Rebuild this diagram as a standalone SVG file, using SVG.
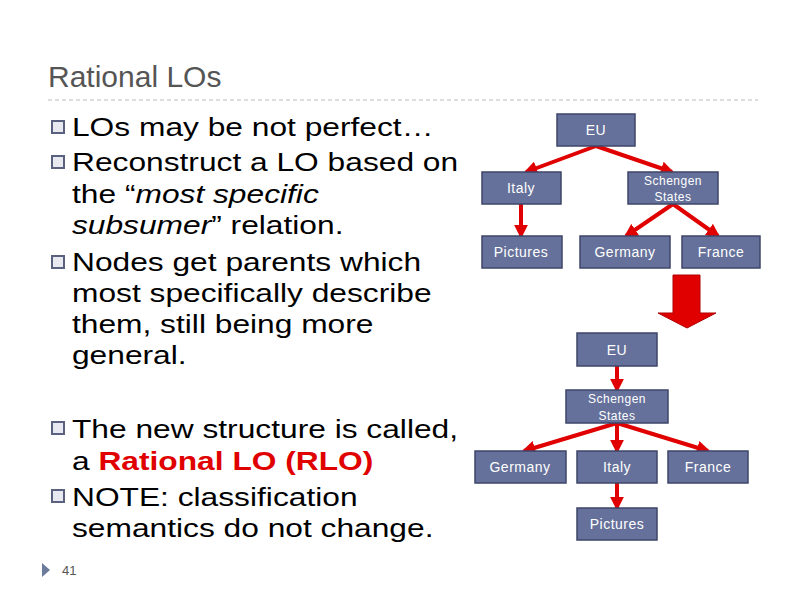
<svg xmlns="http://www.w3.org/2000/svg" width="800" height="600" viewBox="0 0 800 600">
<style>
.n{fill:#65719a;stroke:#3e4668;stroke-width:1.5}
.t{fill:#fff;font-family:"Liberation Sans",Arial,sans-serif;font-size:14px;text-anchor:middle;letter-spacing:0.5px}
.s{font-size:12px}
.b{font-family:"Liberation Sans",Arial,sans-serif;font-size:26px;fill:#000}
.c{stroke:#e00000;stroke-width:4;fill:none;marker-end:url(#a)}
.q{fill:#e8e9f0;stroke:#5a6080;stroke-width:2}
</style>
<defs><marker id="a" viewBox="0 0 10 10" refX="8" refY="5" markerWidth="3.5" markerHeight="3.5" orient="auto"><path d="M0,0L10,5L0,10z" fill="#e00000"/></marker></defs>
<rect width="800" height="600" fill="#fff"/>
<text x="48" y="87" font-family="Liberation Sans,Arial,sans-serif" font-size="30" fill="#555">Rational LOs</text>
<line x1="48" y1="100" x2="758" y2="100" stroke="#bbb" stroke-dasharray="4,3"/>
<g id="bullets">
<rect class="q" x="52" y="121" width="12" height="12"/>
<rect class="q" x="52" y="156" width="12" height="12"/>
<rect class="q" x="52" y="256" width="12" height="12"/>
<rect class="q" x="52" y="422" width="12" height="12"/>
<rect class="q" x="52" y="490" width="12" height="12"/>
</g>
<g id="text" transform="translate(72,0) scale(1.22,1) translate(-72,0)">
<text class="b" x="72" y="136">LOs may be not perfect…</text>
<text class="b" x="72" y="171">Reconstruct a LO based on</text>
<text class="b" x="72" y="203">the “<tspan font-style="italic">most specific</tspan></text>
<text class="b" x="72" y="234"><tspan font-style="italic">subsumer</tspan>” relation.</text>
<text class="b" x="72" y="271">Nodes get parents which</text>
<text class="b" x="72" y="302">most specifically describe</text>
<text class="b" x="72" y="333">them, still being more</text>
<text class="b" x="72" y="364">general.</text>
<text class="b" x="72" y="438">The new structure is called,</text>
<text class="b" x="72" y="470">a <tspan fill="#e00000" font-weight="bold">Rational LO (RLO)</tspan></text>
<text class="b" x="72" y="506">NOTE: classification</text>
<text class="b" x="72" y="537">semantics do not change.</text>
</g>
<path d="M42,563L50,570L42,577z" fill="#6c7a9c"/>
<text x="62" y="575" font-family="Liberation Sans,Arial,sans-serif" font-size="13" fill="#555">41</text>
<g id="connectors">
<line class="c" x1="596" y1="146" x2="526" y2="172"/>
<line class="c" x1="596" y1="146" x2="672" y2="172"/>
<line class="c" x1="521" y1="204" x2="521" y2="236"/>
<line class="c" x1="673" y1="204" x2="626" y2="236"/>
<line class="c" x1="673" y1="204" x2="718" y2="236"/>
<line class="c" x1="617" y1="366" x2="617" y2="390"/>
<line class="c" x1="617" y1="423" x2="524" y2="451"/>
<line class="c" x1="617" y1="423" x2="617" y2="451"/>
<line class="c" x1="617" y1="423" x2="708" y2="451"/>
<line class="c" x1="617" y1="483" x2="617" y2="508"/>
<path d="M673,275H700V313H716L687,328L658,313H673z" fill="#e00000" stroke="#b00000"/>
</g>
<g id="n1"><rect class="n" x="557" y="114" width="78" height="32"/><text class="t" x="596" y="135">EU</text></g>
<g id="n2"><rect class="n" x="482" y="172" width="79" height="32"/><text class="t" x="521" y="193">Italy</text></g>
<g id="n3"><rect class="n" x="628" y="172" width="90" height="32"/><text class="t s" x="673" y="185">Schengen</text><text class="t s" x="673" y="201">States</text></g>
<g id="n4"><rect class="n" x="482" y="236" width="80" height="32"/><text class="t" x="521" y="257">Pictures</text></g>
<g id="n5"><rect class="n" x="580" y="236" width="90" height="32"/><text class="t" x="625" y="257">Germany</text></g>
<g id="n6"><rect class="n" x="682" y="236" width="78" height="32"/><text class="t" x="721" y="257">France</text></g>
<g id="m1"><rect class="n" x="577" y="333" width="80" height="33"/><text class="t" x="617" y="355">EU</text></g>
<g id="m2"><rect class="n" x="566" y="390" width="102" height="33"/><text class="t s" x="617" y="403">Schengen</text><text class="t s" x="617" y="420">States</text></g>
<g id="m3"><rect class="n" x="475" y="451" width="91" height="32"/><text class="t" x="520" y="472">Germany</text></g>
<g id="m4"><rect class="n" x="577" y="451" width="80" height="32"/><text class="t" x="617" y="472">Italy</text></g>
<g id="m5"><rect class="n" x="668" y="451" width="80" height="32"/><text class="t" x="708" y="472">France</text></g>
<g id="m6"><rect class="n" x="577" y="508" width="80" height="32"/><text class="t" x="617" y="529">Pictures</text></g>
</svg>
